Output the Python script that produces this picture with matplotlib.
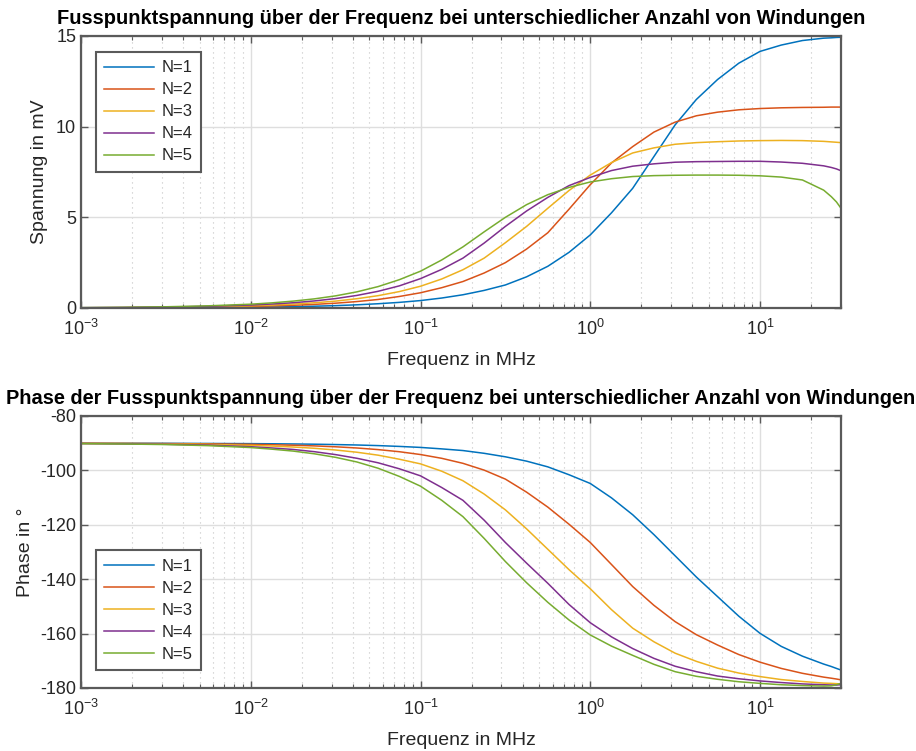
import matplotlib
matplotlib.use("Agg")
import matplotlib.pyplot as plt
from matplotlib.ticker import LogLocator, FixedLocator, NullFormatter, LogFormatterMathtext

plt.rcParams['font.family'] = ['Liberation Sans', 'DejaVu Sans']
plt.rcParams['mathtext.fontset'] = 'custom'
plt.rcParams['mathtext.rm'] = 'Liberation Sans'
plt.rcParams['mathtext.it'] = 'Liberation Sans'
plt.rcParams['mathtext.default'] = 'regular'
plt.rcParams['axes.unicode_minus'] = False

# ---- data ----
freq_MHz = [0.001, 0.00178, 0.00316, 0.00562, 0.01, 0.01334, 0.01778, 0.02371, 0.03162, 0.04217,
            0.05623, 0.07499, 0.1, 0.1334, 0.1778, 0.2371, 0.3162, 0.4217, 0.5623, 0.7499,
            1.0, 1.334, 1.778, 2.371, 3.162, 4.217, 5.623, 7.499, 10.0, 13.34,
            17.78, 23.71, 26.3, 28.2, 30.0]

labels = ['N=1', 'N=2', 'N=3', 'N=4', 'N=5']

mag_N1 = [0.004, 0.007, 0.013, 0.023, 0.041, 0.056, 0.074, 0.099, 0.13, 0.176,
          0.235, 0.31, 0.41, 0.55, 0.73, 0.97, 1.27, 1.72, 2.3, 3.07,
          4.03, 5.25, 6.6, 8.35, 10.1, 11.5, 12.6, 13.5, 14.15, 14.5,
          14.75, 14.88, 14.9, 14.92, 14.93]
mag_N2 = [0.008, 0.015, 0.026, 0.047, 0.084, 0.114, 0.149, 0.2, 0.265, 0.355,
          0.47, 0.635, 0.84, 1.12, 1.46, 1.93, 2.5, 3.25, 4.15, 5.45,
          6.8, 8.0, 8.9, 9.7, 10.25, 10.6, 10.8, 10.93, 11.0, 11.04,
          11.06, 11.07, 11.08, 11.08, 11.08]
mag_N3 = [0.012, 0.022, 0.038, 0.068, 0.12, 0.162, 0.215, 0.288, 0.38, 0.512,
          0.68, 0.905, 1.2, 1.6, 2.11, 2.75, 3.6, 4.5, 5.5, 6.48,
          7.33, 8.02, 8.55, 8.83, 9.03, 9.12, 9.17, 9.21, 9.23, 9.24,
          9.23, 9.19, 9.16, 9.14, 9.12]
mag_N4 = [0.017, 0.029, 0.052, 0.093, 0.165, 0.22, 0.29, 0.39, 0.52, 0.693,
          0.92, 1.22, 1.62, 2.13, 2.75, 3.58, 4.5, 5.35, 6.1, 6.75,
          7.2, 7.58, 7.82, 7.95, 8.04, 8.07, 8.08, 8.09, 8.09, 8.05,
          7.98, 7.84, 7.75, 7.67, 7.57]
mag_N5 = [0.021, 0.038, 0.067, 0.12, 0.21, 0.284, 0.38, 0.504, 0.67, 0.89,
          1.18, 1.56, 2.03, 2.65, 3.37, 4.2, 5.0, 5.7, 6.25, 6.65,
          6.95, 7.13, 7.25, 7.3, 7.32, 7.33, 7.33, 7.32, 7.29, 7.22,
          7.06, 6.5, 6.14, 5.85, 5.5]

ph_N1 = [-90.02, -90.03, -90.05, -90.1, -90.16, -90.21, -90.28, -90.37, -90.5, -90.66,
         -90.88, -91.18, -91.55, -92.09, -92.7, -93.72, -95.0, -96.6, -98.7, -101.6,
         -104.8, -110.1, -116.3, -123.6, -131.4, -139.2, -146.4, -153.6, -159.9, -164.7,
         -168.3, -171.2, -172.1, -172.8, -173.4]
ph_N2 = [-90.04, -90.07, -90.13, -90.24, -90.42, -90.56, -90.74, -90.99, -91.32, -91.76,
         -92.35, -93.13, -94.17, -95.56, -97.4, -99.9, -103.2, -108.0, -113.5, -119.8,
         -126.5, -134.6, -142.7, -149.6, -155.6, -160.4, -164.2, -167.7, -170.5, -172.8,
         -174.6, -176.0, -176.4, -176.7, -177.0]
ph_N3 = [-90.08, -90.14, -90.25, -90.44, -90.8, -91.05, -91.4, -91.87, -92.5, -93.32,
         -94.4, -95.89, -97.6, -100.3, -103.8, -108.7, -114.5, -121.5, -129.0, -136.5,
         -143.5, -151.2, -158.0, -163.0, -167.2, -170.2, -172.7, -174.5, -175.8, -176.9,
         -177.6, -178.2, -178.3, -178.4, -178.5]
ph_N4 = [-90.13, -90.23, -90.4, -90.7, -91.3, -91.76, -92.3, -93.12, -94.2, -95.54,
         -97.2, -99.4, -102.0, -106.3, -111.0, -118.3, -126.5, -134.1, -141.5, -149.3,
         -156.0, -161.2, -165.5, -169.1, -172.0, -174.0, -175.6, -176.6, -177.4, -178.0,
         -178.5, -178.8, -178.9, -178.9, -178.8]
ph_N5 = [-90.16, -90.29, -90.5, -90.9, -91.6, -92.2, -92.9, -93.9, -95.2, -96.9,
         -99.2, -102.2, -105.8, -111.0, -117.0, -125.0, -133.5, -141.3, -148.5, -155.0,
         -160.5, -164.6, -168.0, -171.3, -174.0, -175.7, -176.8, -177.7, -178.3, -178.8,
         -179.1, -179.3, -179.2, -178.8, -178.3]

mags = [mag_N1, mag_N2, mag_N3, mag_N4, mag_N5]
phases = [ph_N1, ph_N2, ph_N3, ph_N4, ph_N5]

colors = ['#0072BD', '#D95319', '#EDB120', '#7E2F8E', '#77AC30']
txt = '#262626'
axcol = '#5a5a5a'

fig = plt.figure(figsize=(9.16, 7.51), dpi=100)
ax1 = fig.add_axes([81/916, 1-308/751, 760/916, 272/751])
ax2 = fig.add_axes([81/916, 1-688/751, 760/916, 272/751])


def style(ax):
    ax.set_xscale('log')
    ax.set_xlim(1e-3, 30)
    ax.xaxis.set_major_locator(LogLocator(base=10, numticks=10))
    ax.xaxis.set_minor_locator(LogLocator(base=10, subs=range(2, 10), numticks=100))
    ax.xaxis.set_major_formatter(LogFormatterMathtext())
    ax.xaxis.set_minor_formatter(NullFormatter())
    ax.grid(True, which='major', color='#dedede', linewidth=1.0, linestyle='-')
    ax.grid(True, which='minor', axis='x', color='#c4c4c4', linewidth=0.8, linestyle=(0, (1, 3.5)))
    ax.set_axisbelow(True)
    ax.tick_params(which='both', direction='in', top=True, right=True, colors=axcol,
                   labelcolor=txt, labelsize=13)
    ax.tick_params(which='major', length=5, width=1.0)
    ax.tick_params(which='minor', length=3, width=0.8)
    ax.tick_params(axis='x', which='major', pad=8)
    for s in ax.spines.values():
        s.set_color(axcol)
        s.set_linewidth(1.6)


def legend(ax, **kw):
    leg = ax.legend(fontsize=12, handlelength=3.0, handletextpad=0.45, labelspacing=0.42,
                    borderpad=0.5, fancybox=False, framealpha=1, edgecolor=axcol,
                    borderaxespad=0, **kw)
    leg.get_frame().set_linewidth(1.5)
    for t in leg.get_texts():
        t.set_color(txt)
    return leg


style(ax1)
for y, c, lab in zip(mags, colors, labels):
    ax1.plot(freq_MHz, y, color=c, linewidth=1.1, label=lab)
ax1.set_ylim(0, 15)
ax1.yaxis.set_major_locator(FixedLocator([0, 5, 10, 15]))
ax1.set_xlabel('Frequenz in MHz', fontsize=14, color=txt, labelpad=9)
ax1.set_ylabel('Spannung in mV', fontsize=14, color=txt, labelpad=6)
ax1.set_title('Fusspunktspannung über der Frequenz bei unterschiedlicher Anzahl von Windungen',
              fontsize=14.4, fontweight='bold', color='black', pad=9)
legend(ax1, loc='upper left', bbox_to_anchor=(0.0197, 0.941))

style(ax2)
for y, c, lab in zip(phases, colors, labels):
    ax2.plot(freq_MHz, y, color=c, linewidth=1.1, label=lab)
ax2.set_ylim(-180, -80)
ax2.yaxis.set_major_locator(FixedLocator([-180, -160, -140, -120, -100, -80]))
ax2.set_xlabel('Frequenz in MHz', fontsize=14, color=txt, labelpad=9)
ax2.set_ylabel('Phase in °', fontsize=14, color=txt, labelpad=4)
ax2.set_title('Phase der Fusspunktspannung über der Frequenz bei unterschiedlicher Anzahl von Windungen',
              fontsize=14.4, fontweight='bold', color='black', pad=9)
legend(ax2, loc='lower left', bbox_to_anchor=(0.0197, 0.066))

fig.savefig('out.png', dpi=100, facecolor='white')
